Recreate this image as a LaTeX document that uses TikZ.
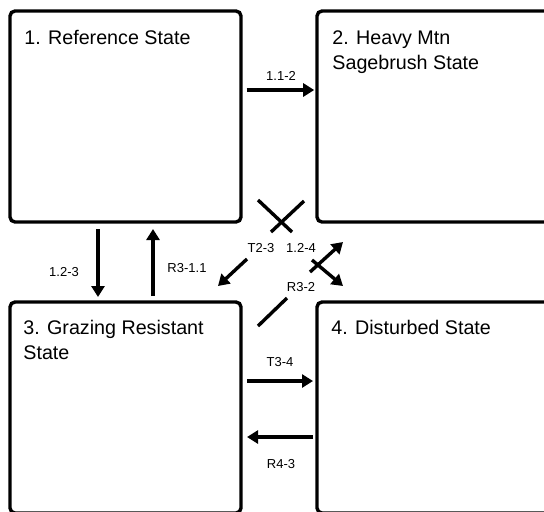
\documentclass[tikz,border=0pt]{standalone}
\usepackage{fontspec}
\setmainfont{Liberation Sans}
\usetikzlibrary{arrows.meta,positioning}

\tikzset{
  statebox/.style={draw,line width=1.7pt,rounded corners=2.5pt,
    minimum width=115.5pt,minimum height=105.5pt,inner sep=0pt,outer sep=0pt},
  statename/.style={anchor=base west,align=left,inner sep=0pt,
    font=\fontsize{9.85}{12.5}\selectfont},
  trans/.style={font=\fontsize{6.5}{7.5}\selectfont,inner sep=0pt},
  arr/.style={line width=1.7pt,-{Triangle[length=5.5pt,width=6.5pt]}},
  seg/.style={line width=1.7pt},
}

\begin{document}
\begin{tikzpicture}[x=0.5pt,y=-0.5pt]
    \clip (0,0) rectangle (544,511);
    % states
    \node[statebox] (s1) at (125.5,116.5) {};
    \node[statebox,minimum width=120pt,right=38pt of s1] (s2) {};
    \node[statebox,below=40pt of s1] (s3) {};
    \node[statebox,minimum width=120pt,below=40pt of s2] (s4) {};
    % base is the last line for two-line names
    \node[statename] (n1) at ([shift={(14,33)}]s1.north west) {1. Reference State};
    \node[statename] (n2) at ([shift={(15,58)}]s2.north west) {2. Heavy Mtn\\Sagebrush State};
    \node[statename] (n3) at ([shift={(13,57)}]s3.north west) {3. Grazing Resistant\\State};
    \node[statename] (n4) at ([shift={(14,32)}]s4.north west) {4. Disturbed State};

    % straight transitions
    \draw[arr,shorten <=2.8pt,shorten >=1.4pt] (s1.east |- 0,90) -- (s2.west |- 0,90);
    \draw[arr,shorten <=3.5pt,shorten >=2.5pt] (s1.south -| 98,0) -- (s3.north -| 98,0);
    \draw[arr,shorten <=3pt,shorten >=3.5pt] (s3.north -| 153,0) -- (s1.south -| 153,0);
    \draw[arr,shorten <=3pt,shorten >=2pt] (s3.east |- 0,381) -- (s4.west |- 0,381);
    \draw[arr,shorten <=2pt,shorten >=3pt] (s4.west |- 0,437) -- (s3.east |- 0,437);

    % diagonal pieces
    \draw[seg] (258,200) -- (292,232);
    \draw[seg] (304,201) -- (271,232);
    \draw[arr] (247,259) -- (218,286);
    \draw[arr] (312,260) -- (343,286);
    \draw[seg] (258,326) -- (287,298);
    \draw[arr] (310,272) -- (343,242);

    % labels
    \node[trans] (l12) at (281,76) {1.1-2};
    \node[trans] (l13) at (64,272) {1.2-3};
    \node[trans] (l31) at (187,268) {R3-1.1};
    \node[trans] (l23) at (261,248) {T2-3};
    \node[trans] (l24) at (301,248) {1.2-4};
    \node[trans] (l32) at (301,287) {R3-2};
    \node[trans] (l34) at (280,362) {T3-4};
    \node[trans] (l43) at (281,464) {R4-3};
\end{tikzpicture}
\end{document}
